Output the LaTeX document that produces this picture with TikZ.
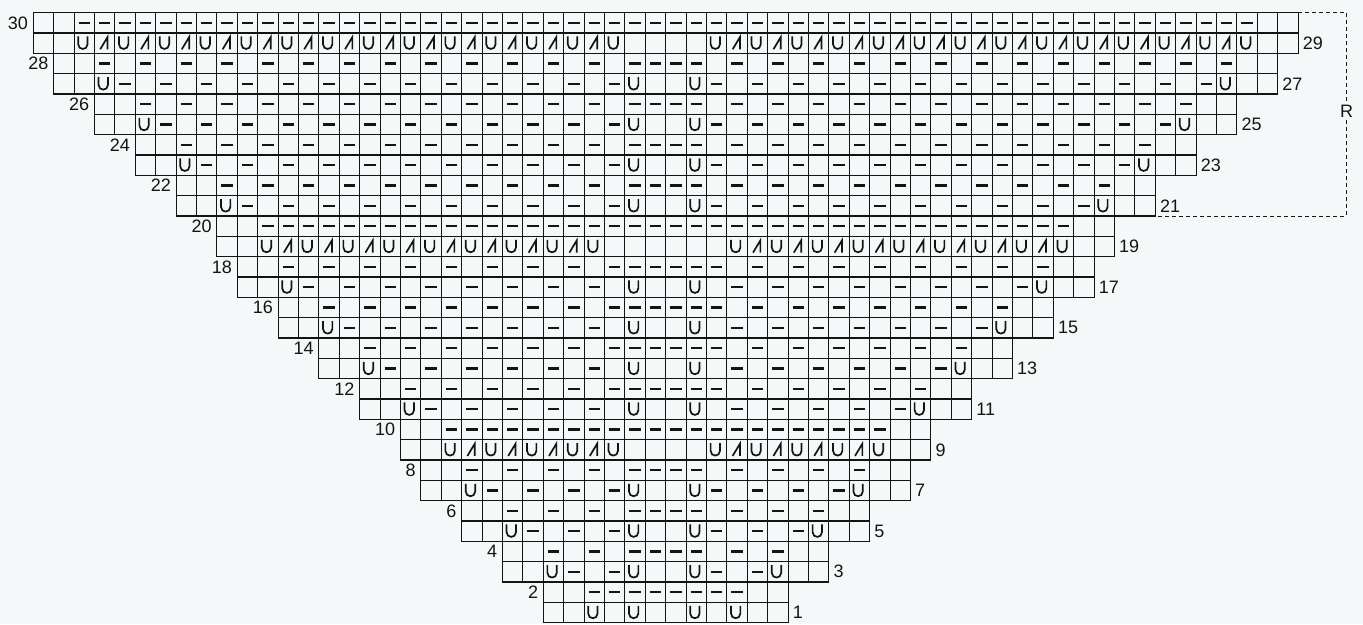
\documentclass[tikz,border=0pt]{standalone}
\usepackage{fontspec}
\setmainfont{Liberation Sans}
\definecolor{bg}{RGB}{245,248,249}
\definecolor{ink}{RGB}{20,20,20}
\tikzset{
  gridline/.style={draw=ink,line width=1.1pt},
  dashsym/.style={draw=ink,line width=2.2pt},
  usym/.style={draw=ink,line width=1.7pt,line join=miter},
  lbl/.style={inner sep=0pt,font=\fontsize{18}{20}\selectfont,text=ink},
  repline/.style={draw=ink,line width=1pt,dash pattern=on 4pt off 3pt}
}
\newcommand\dsh[2]{\draw[dashsym] ({#1+0.22},{#2-0.5}) -- ({#1+0.78},{#2-0.5});}
\newcommand\yo[2]{\draw[usym] ({#1+0.2},{#2-0.17}) -- ({#1+0.2},{#2-0.55}) .. controls ({#1+0.2},{#2-0.86}) and ({#1+0.66},{#2-0.86}) .. ({#1+0.66},{#2-0.55}) -- ({#1+0.66},{#2-0.17});}
\newcommand\ktog[2]{\draw[usym] ({#1+0.28},{#2-0.8}) -- ({#1+0.64},{#2-0.2}) -- ({#1+0.64},{#2-0.8});}
\begin{document}
\begin{tikzpicture}[x=20.4pt,y=20.33pt]
\fill[bg] (-1.632,-0.0689) rectangle (65.18,30.625);
\useasboundingbox (-1.632,-0.0689) rectangle (65.18,30.625);
\foreach \r in {1,...,30}{
  \pgfmathtruncatemacro\k{(\r+1)/2}
  \pgfmathtruncatemacro\o{{25,23,21,19,18,16,14,12,10,9,7,5,3,1,0}[\k-1]}
  \pgfmathtruncatemacro\a{\o+1}
  \pgfmathtruncatemacro\b{61-\o}
  \pgfmathtruncatemacro\e{62-\o}
  \pgfmathtruncatemacro\odd{mod(\r,2)}
  \pgfmathtruncatemacro\lace{(\r==9)||(\r==19)||(\r==29)}
  \pgfmathtruncatemacro\after{(\r==2)||(\r==10)||(\r==20)||(\r==30)}
  \pgfmathtruncatemacro\pA{\o+2}
  \pgfmathtruncatemacro\pB{\o+4}
  \pgfmathtruncatemacro\qA{\o+3}
  \pgfmathtruncatemacro\qB{\o+5}
  \pgfmathtruncatemacro\pR{59-\o}
  % grid
  \draw[gridline] (\o,{\r-1}) rectangle (\e,\r);
  \foreach \c in {\a,...,\b}{\draw[gridline] (\c,{\r-1}) -- (\c,\r);}
  \ifnum\odd=1
    \ifnum\lace=1
      \foreach \c in {\pA,\pB,...,28}{\yo{\c}{\r}\yo{61-\c}{\r}}
      \foreach \c in {\qA,\qB,...,27}{\ktog{\c}{\r}\ktog{61-\c}{\r}}
    \else
      \yo{\pA}{\r}\yo{\pR}{\r}\yo{29}{\r}\yo{32}{\r}
      \ifnum\r>1
        \foreach \c in {\qA,\qB,...,28}{\dsh{\c}{\r}\dsh{61-\c}{\r}}
      \fi
    \fi
    \node[lbl,anchor=west] (lab\r) at ({\e+0.22},{\r-0.5}) {\r};
  \else
    \ifnum\after=1
      \foreach \c in {\pA,...,\pR}{\dsh{\c}{\r}}
    \else
      \foreach \c in {\pA,\pB,...,28}{\dsh{\c}{\r}\dsh{61-\c}{\r}}
      \foreach \c in {29,30,31,32}{\dsh{\c}{\r}}
    \fi
    \node[lbl,anchor=east] (lab\r) at ({\o-0.25},{\r-0.5}) {\r};
  \fi
}
\coordinate (rtop) at (62,30);
\coordinate (rbot) at (55,20);
\node[lbl,inner sep=3pt] (R) at (64.38,25.16) {R};
\draw[repline] (rtop) -| (R.north);
\draw[repline] (R.south) |- (rbot);
\end{tikzpicture}
\end{document}
